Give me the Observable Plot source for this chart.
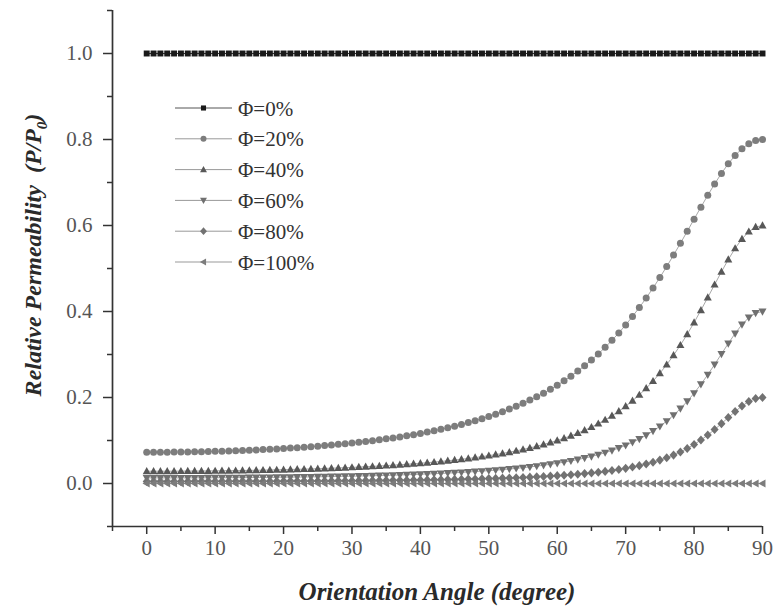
<!DOCTYPE html>
<html>
<head>
<meta charset="utf-8">
<script src="https://cdn.jsdelivr.net/npm/d3@7"></script>
<script src="https://cdn.jsdelivr.net/npm/@observablehq/plot@0.6"></script>
<style>
  body { margin: 0; background: #fff; }
  #chart { position: relative; width: 774px; height: 607px; }
</style>
</head>
<body>
<div id="chart"></div>
<script>
// Orientation angle of the platelets (degrees)
const angles = [
  0,1,2,3,4,5,6,7,8,9,10,11,12,13,14,15,16,17,18,19,20,21,22,23,24,25,26,27,28,29,
  30,31,32,33,34,35,36,37,38,39,40,41,42,43,44,45,46,47,48,49,50,51,52,53,54,55,56,57,58,59,
  60,61,62,63,64,65,66,67,68,69,70,71,72,73,74,75,76,77,78,79,80,81,82,83,84,85,86,87,88,89,90
];

// Series names (filler volume fraction)
const seriesNames = ["Φ=0%", "Φ=20%", "Φ=40%", "Φ=60%", "Φ=80%", "Φ=100%"];

// Relative permeability P/P0 for each series
const phi0 = [
  1,1,1,1,1,1,1,1,1,1, 1,1,1,1,1,1,1,1,1,1, 1,1,1,1,1,1,1,1,1,1,
  1,1,1,1,1,1,1,1,1,1, 1,1,1,1,1,1,1,1,1,1, 1,1,1,1,1,1,1,1,1,1,
  1,1,1,1,1,1,1,1,1,1, 1,1,1,1,1,1,1,1,1,1, 1,1,1,1,1,1,1,1,1,1, 1
];
const phi20 = [
  0.0727,0.0728,0.0728,0.0729,0.0731,0.0732,0.0735,0.0737,0.0740,0.0744,
  0.0748,0.0752,0.0757,0.0762,0.0768,0.0774,0.0781,0.0789,0.0796,0.0805,
  0.0814,0.0823,0.0834,0.0845,0.0856,0.0868,0.0881,0.0895,0.0910,0.0925,
  0.0941,0.0958,0.0977,0.0996,0.1016,0.1038,0.1060,0.1084,0.1110,0.1136,
  0.1165,0.1195,0.1227,0.1260,0.1296,0.1333,0.1373,0.1416,0.1461,0.1508,
  0.1559,0.1613,0.1670,0.1731,0.1796,0.1865,0.1939,0.2017,0.2101,0.2190,
  0.2286,0.2388,0.2497,0.2614,0.2738,0.2871,0.3014,0.3166,0.3329,0.3502,
  0.3687,0.3884,0.4092,0.4313,0.4546,0.4791,0.5046,0.5312,0.5585,0.5865,
  0.6147,0.6427,0.6702,0.6966,0.7212,0.7435,0.7629,0.7787,0.7904,0.7976,
  0.8000
];
const phi40 = [
  0.0286,0.0286,0.0286,0.0286,0.0287,0.0288,0.0289,0.0290,0.0291,0.0293,
  0.0294,0.0296,0.0298,0.0300,0.0303,0.0305,0.0308,0.0311,0.0314,0.0318,
  0.0322,0.0326,0.0330,0.0334,0.0339,0.0344,0.0350,0.0356,0.0362,0.0368,
  0.0375,0.0382,0.0390,0.0398,0.0407,0.0416,0.0426,0.0436,0.0447,0.0459,
  0.0471,0.0484,0.0498,0.0513,0.0529,0.0545,0.0563,0.0582,0.0603,0.0625,
  0.0648,0.0673,0.0699,0.0728,0.0759,0.0792,0.0827,0.0866,0.0907,0.0952,
  0.1000,0.1053,0.1110,0.1171,0.1239,0.1312,0.1393,0.1480,0.1576,0.1681,
  0.1797,0.1923,0.2062,0.2214,0.2381,0.2564,0.2764,0.2982,0.3218,0.3472,
  0.3743,0.4029,0.4325,0.4626,0.4924,0.5208,0.5468,0.5688,0.5857,0.5964,
  0.6000
];
const phi60 = [
  0.0129,0.0129,0.0129,0.0129,0.0130,0.0130,0.0130,0.0131,0.0131,0.0132,
  0.0133,0.0134,0.0135,0.0136,0.0137,0.0138,0.0139,0.0141,0.0142,0.0144,
  0.0146,0.0147,0.0149,0.0151,0.0154,0.0156,0.0159,0.0161,0.0164,0.0167,
  0.0170,0.0174,0.0177,0.0181,0.0185,0.0189,0.0194,0.0199,0.0204,0.0209,
  0.0215,0.0221,0.0228,0.0235,0.0242,0.0250,0.0258,0.0268,0.0277,0.0288,
  0.0299,0.0311,0.0323,0.0337,0.0352,0.0368,0.0385,0.0404,0.0424,0.0447,
  0.0471,0.0497,0.0526,0.0557,0.0591,0.0629,0.0671,0.0717,0.0768,0.0824,
  0.0887,0.0957,0.1035,0.1122,0.1220,0.1329,0.1451,0.1589,0.1742,0.1912,
  0.2100,0.2307,0.2530,0.2767,0.3012,0.3257,0.3490,0.3696,0.3859,0.3964,
  0.4000
];
const phi80 = [
  0.0049,0.0049,0.0049,0.0049,0.0049,0.0049,0.0049,0.0050,0.0050,0.0050,
  0.0050,0.0051,0.0051,0.0051,0.0052,0.0052,0.0053,0.0053,0.0054,0.0054,
  0.0055,0.0056,0.0057,0.0057,0.0058,0.0059,0.0060,0.0061,0.0062,0.0063,
  0.0065,0.0066,0.0067,0.0069,0.0070,0.0072,0.0074,0.0075,0.0077,0.0080,
  0.0082,0.0084,0.0087,0.0089,0.0092,0.0095,0.0099,0.0102,0.0106,0.0110,
  0.0114,0.0119,0.0124,0.0129,0.0135,0.0141,0.0148,0.0155,0.0164,0.0172,
  0.0182,0.0192,0.0204,0.0216,0.0230,0.0246,0.0263,0.0281,0.0302,0.0326,
  0.0352,0.0382,0.0415,0.0453,0.0495,0.0544,0.0599,0.0661,0.0733,0.0814,
  0.0907,0.1011,0.1127,0.1255,0.1392,0.1534,0.1674,0.1803,0.1907,0.1976,
  0.2000
];
const phi100 = [
  0,0,0,0,0,0,0,0,0,0, 0,0,0,0,0,0,0,0,0,0, 0,0,0,0,0,0,0,0,0,0,
  0,0,0,0,0,0,0,0,0,0, 0,0,0,0,0,0,0,0,0,0, 0,0,0,0,0,0,0,0,0,0,
  0,0,0,0,0,0,0,0,0,0, 0,0,0,0,0,0,0,0,0,0, 0,0,0,0,0,0,0,0,0,0, 0
];

// Axis ticks
const xMajor = [0, 10, 20, 30, 40, 50, 60, 70, 80, 90];
const xMinor = [-5, 5, 15, 25, 35, 45, 55, 65, 75, 85];
const yMajor = [0, 0.2, 0.4, 0.6, 0.8, 1.0];
const yMinor = [-0.1, 0.1, 0.3, 0.5, 0.7, 0.9, 1.1];

// Marker shapes, sized from Plot's dot radius (size = r² π)
function shape(points) {
  return {
    draw(ctx, size) {
      const r = Math.sqrt(size / Math.PI);
      points.forEach(([px, py], i) => i ? ctx.lineTo(px * r, py * r) : ctx.moveTo(px * r, py * r));
      ctx.closePath();
    }
  };
}
const symSquare = shape([[-0.85, -0.85], [0.85, -0.85], [0.85, 0.85], [-0.85, 0.85]]);
const symCircle = {
  draw(ctx, size) {
    const r = Math.sqrt(size / Math.PI);
    ctx.moveTo(r, 0);
    ctx.arc(0, 0, r, 0, 2 * Math.PI);
  }
};
const symUp = shape([[0, -1.2], [1.15, 0.85], [-1.15, 0.85]]);
const symDown = shape([[0, 1.2], [1.15, -0.85], [-1.15, -0.85]]);
const symDiamond = shape([[0, -1.3], [1.15, 0], [0, 1.3], [-1.15, 0]]);
const symLeft = shape([[-1.2, 0], [0.85, -1.15], [0.85, 1.15]]);

const seriesValues = [phi0, phi20, phi40, phi60, phi80, phi100];
const seriesSymbols = [symSquare, symCircle, symUp, symDown, symDiamond, symLeft];
const markerFill = ["#1a1a1a", "#7d7d7d", "#585858", "#707070", "#727272", "#7c7c7c"];
const lineStroke = ["#333333", "#a8a8a8", "#a8a8a8", "#a8a8a8", "#a8a8a8", "#a8a8a8"];

const series = seriesNames.map((name, i) => ({
  name,
  symbol: seriesSymbols[i],
  fill: markerFill[i],
  line: lineStroke[i],
  rows: angles.map((a, j) => ({angle: a, value: seriesValues[i][j]}))
}));

const axisColor = "#333";
const labelColor = "#555";
const serif = "Liberation Serif";

const marks = [
  // axis lines
  Plot.ruleX([-5], {y1: -0.1, y2: 1.1, stroke: axisColor, strokeWidth: 1.7}),
  Plot.ruleY([-0.1], {x1: -5, x2: 90, stroke: axisColor, strokeWidth: 1.7}),
  // y ticks
  Plot.axisY({ticks: yMajor, tickSize: 9, tickPadding: 11, tickFormat: d3.format(".1f"),
    stroke: axisColor, strokeWidth: 1.5, fill: labelColor, fontSize: 21, fontFamily: serif, label: null}),
  Plot.axisY({ticks: yMinor, tickSize: 5, tickFormat: () => "", stroke: axisColor, strokeWidth: 1.5, label: null}),
  // x ticks
  Plot.axisX({ticks: xMajor, tickSize: 8, tickPadding: 6, tickFormat: d3.format("d"),
    stroke: axisColor, strokeWidth: 1.5, fill: labelColor, fontSize: 21, fontFamily: serif, label: null}),
  Plot.axisX({ticks: xMinor, tickSize: 5, tickFormat: () => "", stroke: axisColor, strokeWidth: 1.5, label: null})
];

for (const s of series) {
  marks.push(Plot.line(s.rows, {x: "angle", y: "value", stroke: s.line, strokeWidth: 1}));
}
for (const s of series) {
  marks.push(Plot.dot(s.rows, {x: "angle", y: "value", symbol: s.symbol, r: 3.5, fill: s.fill, stroke: "none"}));
}

const chart = Plot.plot({
  width: 774,
  height: 607,
  marginLeft: 112,
  marginRight: 12,
  marginTop: 10,
  marginBottom: 81,
  x: {domain: [-5, 90], axis: null},
  y: {domain: [-0.1, 1.1], axis: null},
  style: {fontFamily: serif, background: "#fff", overflow: "visible"},
  marks
});

document.getElementById("chart").appendChild(chart);

const svg = d3.select(chart);

// Axis titles
const yTitle = svg.append("text")
  .attr("transform", "translate(41,255) rotate(-90)")
  .attr("text-anchor", "middle")
  .attr("font-family", serif)
  .attr("font-size", 24)
  .attr("font-weight", "bold")
  .attr("font-style", "italic")
  .attr("fill", "#2a2a2a");
yTitle.append("tspan").text("Relative Permeability  (P/P");
yTitle.append("tspan").attr("font-size", 15).attr("dy", 6).text("0");
yTitle.append("tspan").attr("dy", -6).text(")");

svg.append("text")
  .attr("x", 437)
  .attr("y", 600)
  .attr("text-anchor", "middle")
  .attr("font-family", serif)
  .attr("font-size", 25)
  .attr("font-weight", "bold")
  .attr("font-style", "italic")
  .attr("fill", "#2a2a2a")
  .text("Orientation Angle (degree)");

// Legend inside the plot area
const legend = svg.append("g").attr("transform", "translate(175,108)");
series.forEach((s, i) => {
  const row = legend.append("g").attr("transform", `translate(0,${i * 30.8})`);
  row.append("line").attr("x1", 0).attr("x2", 57).attr("y1", 0).attr("y2", 0)
    .attr("stroke", i === 0 ? "#555" : "#999").attr("stroke-width", 1);
  row.append("path").attr("transform", "translate(28.5,0)")
    .attr("d", d3.symbol(s.symbol, 9 * Math.PI)())
    .attr("fill", s.fill);
  row.append("text").attr("x", 63).attr("y", 7.5)
    .attr("text-anchor", "start")
    .attr("font-family", serif).attr("font-size", 21).attr("fill", "#333")
    .text(s.name);
});
</script>
</body>
</html>
